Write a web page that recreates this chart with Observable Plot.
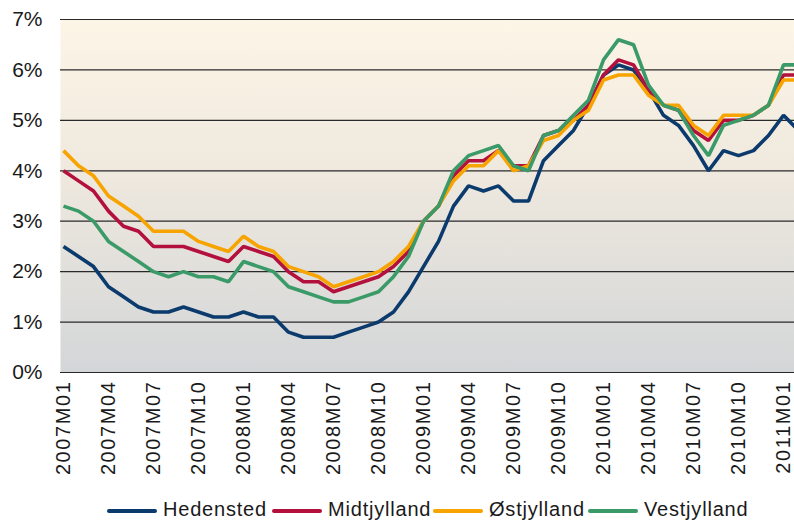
<!DOCTYPE html>
<html>
<head>
<meta charset="utf-8">
<script src="https://cdn.jsdelivr.net/npm/d3@7"></script>
<script src="https://cdn.jsdelivr.net/npm/@observablehq/plot@0.6"></script>
<style>
  html, body { margin: 0; padding: 0; background: #fff; overflow: hidden; width: 794px; height: 524px; }
  #chart svg { display: block; overflow: hidden; }
  #chart text { font-family: "Liberation Sans", Arial, sans-serif; fill: #1a1a1a; }
  .legend { position: relative; height: 34px; font-family: "Liberation Sans", Arial, sans-serif; font-size: 20px; color: #1a1a1a; letter-spacing: 0.8px; }
  .legend .item { position: absolute; top: 6px; display: flex; align-items: center; }
  .legend .swatch { width: 50px; height: 4px; border-radius: 2px; margin-right: 6px; margin-top: 3px; }
</style>
</head>
<body>
<div id="chart"></div>
<div class="legend" id="legend"></div>
<script>
// Categories: months 2007M01 .. 2011M02
const years = [2007, 2008, 2009, 2010, 2011];
const months = [];
for (const yr of years) for (let m = 1; m <= 12; m++) { if (yr === 2011 && m > 2) break; months.push(`${yr}M${String(m).padStart(2, "0")}`); }

const seriesNames = ["Hedensted", "Midtjylland", "Østjylland", "Vestjylland"];
const seriesColors = ["#0b3a6c", "#b3103d", "#f7a400", "#3a9a68"];

const hedensted = [2.5, 2.3, 2.1, 1.7, 1.5, 1.3, 1.2, 1.2, 1.3, 1.2,
                   1.1, 1.1, 1.2, 1.1, 1.1, 0.8, 0.7, 0.7, 0.7, 0.8,
                   0.9, 1.0, 1.2, 1.6, 2.1, 2.6, 3.3, 3.7, 3.6, 3.7,
                   3.4, 3.4, 4.2, 4.5, 4.8, 5.3, 5.9, 6.1, 6.0, 5.6,
                   5.1, 4.9, 4.5, 4.0, 4.4, 4.3, 4.4, 4.7, 5.1, 4.8];
const midtjylland = [4.0, 3.8, 3.6, 3.2, 2.9, 2.8, 2.5, 2.5, 2.5, 2.4,
                     2.3, 2.2, 2.5, 2.4, 2.3, 2.0, 1.8, 1.8, 1.6, 1.7,
                     1.8, 1.9, 2.1, 2.4, 3.0, 3.3, 3.9, 4.2, 4.2, 4.4,
                     4.1, 4.1, 4.7, 4.8, 5.0, 5.3, 5.9, 6.2, 6.1, 5.6,
                     5.3, 5.2, 4.8, 4.6, 5.0, 5.0, 5.1, 5.3, 5.9, 5.9];
const ostjylland = [4.4, 4.1, 3.9, 3.5, 3.3, 3.1, 2.8, 2.8, 2.8, 2.6,
                    2.5, 2.4, 2.7, 2.5, 2.4, 2.1, 2.0, 1.9, 1.7, 1.8,
                    1.9, 2.0, 2.2, 2.5, 3.0, 3.3, 3.8, 4.1, 4.1, 4.4,
                    4.0, 4.1, 4.6, 4.7, 5.0, 5.2, 5.8, 5.9, 5.9, 5.5,
                    5.3, 5.3, 4.9, 4.7, 5.1, 5.1, 5.1, 5.3, 5.8, 5.8];
const vestjylland = [3.3, 3.2, 3.0, 2.6, 2.4, 2.2, 2.0, 1.9, 2.0, 1.9,
                     1.9, 1.8, 2.2, 2.1, 2.0, 1.7, 1.6, 1.5, 1.4, 1.4,
                     1.5, 1.6, 1.9, 2.3, 3.0, 3.3, 4.0, 4.3, 4.4, 4.5,
                     4.1, 4.0, 4.7, 4.8, 5.1, 5.4, 6.2, 6.6, 6.5, 5.7,
                     5.3, 5.2, 4.7, 4.3, 4.9, 5.0, 5.1, 5.3, 6.1, 6.1];
const yTicks = [0, 1, 2, 3, 4, 5, 6, 7];
const xTickLabels = months.filter((d, i) => i % 3 === 0);

const allSeries = [hedensted, midtjylland, ostjylland, vestjylland];
const data = [];
seriesNames.forEach((name, s) => allSeries[s].forEach((v, i) => data.push({month: months[i], value: v, series: name})));

const chart = Plot.plot({
  width: 794,
  height: 492,
  marginTop: 19,
  marginBottom: 120,
  marginLeft: 60,
  marginRight: 0,
  style: { fontFamily: "Liberation Sans, Arial, sans-serif", background: "transparent", overflow: "hidden" },
  x: { type: "point", domain: months, range: [60, 800], padding: 0, ticks: xTickLabels,
       tickFormat: d => xTickLabels.includes(d) ? d : "", tickRotate: -90, tickSize: 0, tickPadding: 8, label: null },
  y: { domain: [0, 7], ticks: yTicks, tickFormat: d => d + "%", tickSize: 0, tickPadding: 18, label: null },
  color: { domain: seriesNames, range: seriesColors },
  marks: [
    Plot.frame({ fill: "url(#bggrad)", stroke: "none" }),
    Plot.ruleY(yTicks, { stroke: "#2a2a2a", strokeWidth: 1.2 }),
    Plot.line(data, { x: "month", y: "value", z: "series", stroke: "series", strokeWidth: 3.6, strokeLinejoin: "miter", strokeLinecap: "butt" })
  ]
});

const svg = d3.select(chart);
const defs = svg.insert("defs", ":first-child");
const grad = defs.append("linearGradient").attr("id", "bggrad").attr("x1", 0).attr("y1", 0).attr("x2", 0).attr("y2", 1);
grad.append("stop").attr("offset", "0%").attr("stop-color", "#fdf5e6");
grad.append("stop").attr("offset", "45%").attr("stop-color", "#eee8de");
grad.append("stop").attr("offset", "100%").attr("stop-color", "#d3d6d8");
svg.selectAll("g[aria-label='y-axis'] text, g[aria-label='y-axis tick label'] text").attr("font-size", 21);
svg.selectAll("g[aria-label='x-axis'] text, g[aria-label='x-axis tick label'] text").attr("font-size", 20).style("letter-spacing", "1.6px");
document.getElementById("chart").appendChild(chart);

const legendPos = [107, 272, 433, 588];
const legend = document.getElementById("legend");
seriesNames.forEach((name, i) => {
  const item = document.createElement("div");
  item.className = "item";
  item.style.left = legendPos[i] + "px";
  const sw = document.createElement("div");
  sw.className = "swatch";
  sw.style.background = seriesColors[i];
  const tx = document.createElement("span");
  tx.textContent = name;
  item.appendChild(sw); item.appendChild(tx);
  legend.appendChild(item);
});
</script>
</body>
</html>
